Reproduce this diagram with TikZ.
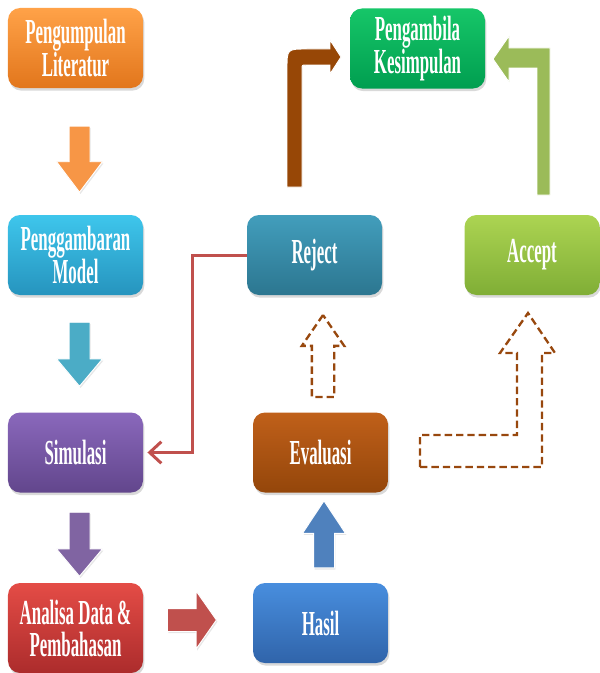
\documentclass[tikz,border=0pt]{standalone}
\usepackage{fontspec}
\newfontfamily\boxfont[FakeStretch=0.48]{Liberation Serif}
\usetikzlibrary{shapes.arrows, shadows, arrows.meta}

\definecolor{litTop}{RGB}{255,162,72}
\definecolor{litBot}{RGB}{226,118,28}
\definecolor{modTop}{RGB}{62,198,236}
\definecolor{modBot}{RGB}{38,148,190}
\definecolor{simTop}{RGB}{138,104,188}
\definecolor{simBot}{RGB}{98,70,140}
\definecolor{anaTop}{RGB}{228,76,70}
\definecolor{anaBot}{RGB}{172,44,44}
\definecolor{hasTop}{RGB}{72,142,222}
\definecolor{hasBot}{RGB}{48,100,170}
\definecolor{evaTop}{RGB}{192,96,26}
\definecolor{evaBot}{RGB}{148,70,10}
\definecolor{rejTop}{RGB}{66,158,188}
\definecolor{rejBot}{RGB}{44,118,144}
\definecolor{accTop}{RGB}{172,212,82}
\definecolor{accBot}{RGB}{128,174,54}
\definecolor{kesTop}{RGB}{22,198,104}
\definecolor{kesBot}{RGB}{0,158,80}
\definecolor{arrorange}{RGB}{247,150,70}
\definecolor{arrteal}{RGB}{75,172,198}
\definecolor{arrpurple}{RGB}{128,100,162}
\definecolor{arrred}{RGB}{192,80,77}
\definecolor{arrblue}{RGB}{79,129,189}
\definecolor{bentbrown}{RGB}{151,71,6}
\definecolor{bentgreen}{RGB}{155,187,89}
\definecolor{dashbrown}{RGB}{152,72,14}

\tikzset{
    stepbox/.style={rectangle, rounded corners=3.6mm, minimum width=40.5mm,
        minimum height=24mm, inner sep=0pt, align=center, text=white,
        font=\boxfont\bfseries\fontsize{30}{27.3}\selectfont,
        drop shadow={opacity=0.3, shadow xshift=0.4mm, shadow yshift=-0.8mm}},
    blockarrow/.style={single arrow, anchor=tip, inner xsep=0pt, inner ysep=3mm,
        single arrow head extend=3.75mm},
    solidarrow/.style={blockarrow, draw=white, line width=0.8pt,
        drop shadow={opacity=0.2, shadow xshift=0.3mm, shadow yshift=-0.5mm}},
    dasharrow/.style={draw=dashbrown, line width=0.7mm, dash pattern=on 2.2mm off 1.2mm}
}

\begin{document}
\begin{tikzpicture}[x=0.3mm, y=-0.3mm, thick]
    \useasboundingbox (0, 0) rectangle (600, 673);
    % left column
    \node[stepbox, top color=litTop, bottom color=litBot] at (75.5, 48) (lit) {Pengumpulan\\Literatur};
    \node[stepbox, top color=modTop, bottom color=modBot] at (75.5, 255) (model) {Penggambaran\\Model};
    \node[stepbox, top color=simTop, bottom color=simBot] at (75.5, 452.5) (sim) {Simulasi};
    \node[stepbox, top color=anaTop, bottom color=anaBot, minimum height=27mm] at (75.5, 628) (ana) {Analisa Data \&\\Pembahasan};
    % right side
    \node[stepbox, top color=hasTop, bottom color=hasBot] at (320.5, 623) (hasil) {Hasil};
    \node[stepbox, top color=evaTop, bottom color=evaBot] at (320.5, 452.5) (eval) {Evaluasi};
    \node[stepbox, top color=rejTop, bottom color=rejBot] at (314.5, 255) (reject) {Reject};
    \node[stepbox, top color=accTop, bottom color=accBot] at (532, 255) (accept) {Accept};
    \node[stepbox, top color=kesTop, bottom color=kesBot] at (417.5, 48.5) (kesimpulan) {Pengambila\\Kesimpulan};

    % block arrows
    \node[solidarrow, fill=arrorange, rotate=-90, minimum height=19.8mm, single arrow tip angle=74] at (79.5, 193) (a1) {};
    \node[solidarrow, fill=arrteal, rotate=-90, minimum height=19.2mm, single arrow tip angle=80] at (79.5, 387) (a2) {};
    \node[solidarrow, fill=arrpurple, rotate=-90, minimum height=19.2mm, single arrow tip angle=80] at (79.5, 577) (a3) {};
    \node[solidarrow, fill=arrred, minimum height=14.7mm, inner ysep=3.3mm, single arrow head extend=5.25mm, single arrow tip angle=110] at (217, 620) (a4) {};
    \node[solidarrow, fill=arrblue, rotate=90, minimum height=20.1mm, single arrow head extend=3.3mm, single arrow tip angle=67] at (324, 500) (a5) {};
    \node[blockarrow, dasharrow, rotate=90, minimum height=24.6mm, single arrow head extend=3mm, single arrow tip angle=69] at (323, 313) (a6) {};

    % bent arrows up to the conclusion
    \fill[bentbrown, draw=white, line width=0.8pt] (287, 187) -- (287, 69) .. controls (287, 49) .. (307, 49) -- (330, 49) -- (330, 40) -- (341, 57) -- (330, 74) -- (330, 65) -- (306, 65) .. controls (302, 65) .. (302, 69) -- (302, 187) -- cycle;
    \fill[bentgreen, draw=white, line width=0.8pt] (550, 195) -- (550, 48) -- (509, 48) -- (509, 36) -- (493, 59) -- (509, 82) -- (509, 68) -- (537, 68) -- (537, 195) -- cycle;
    \draw[dasharrow] (420, 467) -- (420, 435) -- (517, 435) -- (517, 353) -- (500, 353) -- (528, 313) -- (555, 353) -- (542, 353) -- (542, 467) -- cycle;

    % reject goes back to simulation
    \draw[arrred, line width=0.9mm, shorten >=1.2mm, -{Straight Barb[length=3.5mm, width=6.5mm]}] (reject.west) -- ++(-54, 0) |- (sim.east);
\end{tikzpicture}
\end{document}
